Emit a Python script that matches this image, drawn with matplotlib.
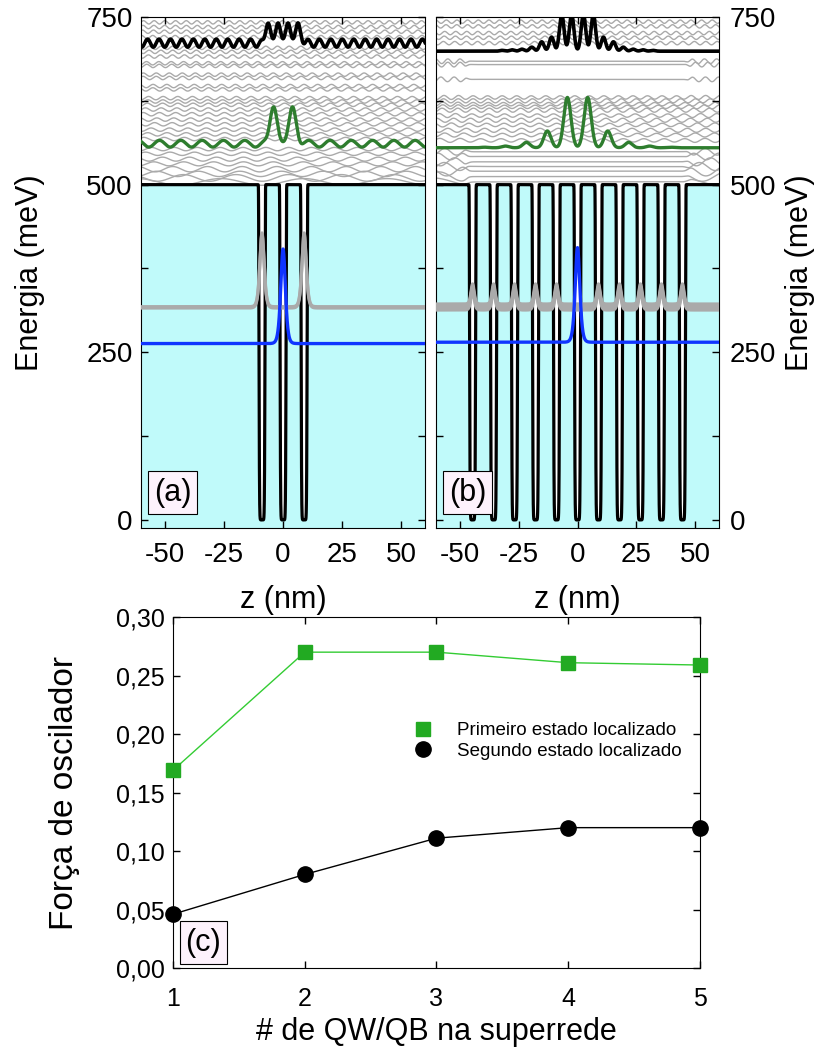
import numpy as np
import matplotlib.pyplot as plt
from matplotlib.lines import Line2D

plt.rcParams['font.family'] = ['Liberation Sans', 'DejaVu Sans']
plt.rcParams['axes.unicode_minus'] = False

# ---------------- top panels: potential + states ----------------
V0 = 500.0
well_width = 2.6
wells_a = [-8.9, 0.0, 8.9]
wells_b = [-44.5, -35.6, -26.7, -17.8, -8.9, 0.0, 8.9, 17.8, 26.7, 35.6, 44.5]

# first localized state (blue), base energy and peak height
blue_a = (263.0, 141.0)
blue_b = (265.0, 141.0)

# lower gray states, peaked at the side wells
gray_low_a_E = [316.0, 318.0]
gray_low_a_amp = 110.0
gray_low_b_E = [313.0, 316.0, 319.0, 322.0]
gray_low_b_amp = 30.0

# localized states above the barrier
green_a_E = 561.0
green_a_pk = [-4.0, 4.0]
green_a_amp = [55.0, 55.0]
black_a_E = 711.0
black_a_pk = [-6.3, -2.1, 2.1, 6.3]
black_a_amp = [30.0, 30.0, 30.0, 30.0]

green_b_E = 555.0
green_b_pk = [-39.4, -30.6, -21.7, -12.8, -4.3, 4.3, 12.8, 21.7, 30.6, 39.4]
green_b_amp = [0.8, 2.5, 8.0, 25.0, 75.0, 75.0, 25.0, 8.0, 2.5, 0.8]
black_b_E = 699.0
black_b_pk = [-32.0, -27.8, -23.6, -19.4, -15.2, -11.0, -6.7, -2.5,
              2.5, 6.7, 11.0, 15.2, 19.4, 23.6, 27.8, 32.0]
black_b_amp = [1.2, 2.0, 3.0, 6.0, 14.0, 21.0, 55.0, 55.0,
               55.0, 55.0, 21.0, 14.0, 6.0, 3.0, 2.0, 1.2]

# continuum (gray) states above the barrier
cont_a_E = [504, 510, 516, 523, 531, 538, 546, 553, 568, 575, 582, 590,
            597, 605, 612, 619, 624, 629, 642, 647, 659, 664, 677, 681,
            691, 698, 704, 720, 728, 735, 742]
cont_a_amp = [5, 5, 4, 4, 3, 3, 2.5, 2.5, 2.5, 2.5, 2.5, 2.5, 2.5, 2.5,
              2.5, 2.5, 2.5, 2.5, 2.5, 2.5, 2.5, 2.5, 2.5, 2.5, 2.5, 2.5,
              2.5, 2.5, 2.5, 2.5, 2.5]
cont_b_E = [504, 512, 520, 527, 534, 542, 549, 566, 574, 581, 589, 596,
            603, 611, 616, 620, 625, 630, 657, 679, 684, 711, 719, 726,
            736, 743]
cont_b_in = [0, 0, 0, 0, 0, 0, 0, 2.5, 2.5, 3, 2.5, 3, 2.5, 3, 2.5, 2.5,
             3, 2.5, 0, 0, 0, 2.5, 2.5, 2.5, 2.5, 2.5]
cont_b_out = [6, 7, 7, 6, 6, 5, 5, 3, 3, 3, 3, 3, 3, 3, 3, 3, 3, 3,
              3.5, 3.5, 3.5, 2.5, 2.5, 2.5, 2.5, 2.5]

# ---------------- bottom panel ----------------
n_layers = [1, 2, 3, 4, 5]
f_first = [0.169, 0.270, 0.270, 0.261, 0.259]
f_second = [0.046, 0.080, 0.111, 0.120, 0.120]

C_CYAN = '#c0fafa'
C_GRAY = '#aaaaaa'
C_GREEN = '#2e7d2e'
C_BLUE = '#1034ff'

z = np.linspace(-60, 60, 12001)


def gauss(z, centers, amps, w):
    out = np.zeros_like(z)
    for c, a in zip(centers, amps):
        out += a * np.exp(-0.5 * ((z - c) / w) ** 2)
    return out


def sech2(z, centers, amp, w):
    out = np.zeros_like(z)
    for c in centers:
        out += amp / np.cosh((z - c) / w) ** 2
    return out


def wiggle(z, E, amp, phase=0.0):
    # period follows free-particle dispersion above the barrier
    period = 9.0 * np.sqrt(61.0 / max(E - V0, 3.0))
    return amp * np.sin(2 * np.pi * z / period + phase)


def outside(z, z0, s=0.7):
    return 1.0 / (1.0 + np.exp(-(np.abs(z) - z0) / s))


def potential(wells):
    # square wells with slightly rounded bottoms
    dip = np.zeros_like(z)
    for c in wells:
        dip += np.exp(-(np.abs(z - c) / (well_width / 2)) ** 10)
    return V0 * (1 - np.clip(dip, 0, 1))


fig = plt.figure(figsize=(8.19, 10.48), dpi=100)
ax_a = fig.add_axes([0.1722, 0.4962, 0.3468, 0.4876])
ax_b = fig.add_axes([0.5324, 0.4962, 0.3455, 0.4876])
ax_c = fig.add_axes([0.2112, 0.0763, 0.6435, 0.3349])


def draw_panel(ax, wells, blue, low_E, low_amp, low_centers, low_w,
               green_E, green_pk, green_amp, green_w,
               black_E, black_pk, black_amp, black_w, tails,
               cont_E, cont_in, cont_out, edge):
    V = potential(wells)
    ax.fill_between(z, -20, V, color=C_CYAN, lw=0, zorder=0)

    # continuum states
    for i, E in enumerate(cont_E):
        env = cont_in[i] + (cont_out[i] - cont_in[i]) * outside(z, edge)
        ax.plot(z, E + wiggle(z, E, 1.0, phase=0.9 * i) * env,
                color=C_GRAY, lw=1.0, zorder=1)

    ax.plot(z, V, color='black', lw=2.3, solid_joinstyle='round',
            solid_capstyle='round', zorder=2)

    for E in low_E:
        ax.plot(z, E + sech2(z, low_centers, low_amp, low_w), color=C_GRAY,
                lw=2.3, zorder=3)
    ax.plot(z, blue[0] + sech2(z, [0.0], blue[1], 1.3), color=C_BLUE,
            lw=2.4, zorder=4)

    g = green_E + gauss(z, green_pk, green_amp, green_w)
    k = black_E + gauss(z, black_pk, black_amp, black_w)
    if tails:
        g += wiggle(z, green_E, 5.0, phase=0.3) * outside(z, 7.0)
        k += wiggle(z, black_E, 6.0, phase=0.5) * outside(z, 8.5)
    ax.plot(z, g, color=C_GREEN, lw=2.4, zorder=4)
    ax.plot(z, k, color='black', lw=2.6, zorder=4)

    ax.set_xlim(-60, 60)
    ax.set_ylim(-12, 748)
    ax.set_xticks([-50, -25, 0, 25, 50])
    ax.set_yticks([0, 125, 250, 375, 500, 625, 750])
    ax.set_yticklabels(['0', '', '250', '', '500', '', '750'])
    ax.tick_params(direction='in', top=True, right=True, length=5,
                   labelsize=20, width=1)
    ax.tick_params(axis='x', pad=10)
    ax.set_xlabel('z (nm)', fontsize=22, labelpad=12)


draw_panel(ax_a, wells_a, blue_a, gray_low_a_E, gray_low_a_amp, [-8.9, 8.9], 1.2,
           green_a_E, green_a_pk, green_a_amp, 1.5,
           black_a_E, black_a_pk, black_a_amp, 1.0, True,
           cont_a_E, cont_a_amp, cont_a_amp, 0.0)
draw_panel(ax_b, wells_b, blue_b, gray_low_b_E, gray_low_b_amp,
           [c for c in wells_b if c != 0.0], 0.9,
           green_b_E, green_b_pk, green_b_amp, 1.5,
           black_b_E, black_b_pk, black_b_amp, 0.95, False,
           cont_b_E, cont_b_in, cont_b_out, 47.0)

ax_a.tick_params(axis='y', pad=6)
ax_a.set_ylabel('Energia (meV)', fontsize=22, labelpad=30)
ax_b.tick_params(axis='y', labelleft=False, labelright=True, pad=8)
ax_b.yaxis.set_label_position('right')
ax_b.set_ylabel('Energia (meV)', fontsize=22, labelpad=6)

box = dict(boxstyle='square,pad=0.2', fc='#fdf2fc', ec='black', lw=0.8)
ax_a.text(0.045, 0.04, '(a)', transform=ax_a.transAxes, fontsize=22,
          ha='left', va='bottom', bbox=box, zorder=6)
ax_b.text(0.045, 0.04, '(b)', transform=ax_b.transAxes, fontsize=22,
          ha='left', va='bottom', bbox=box, zorder=6)

# ---------------- panel (c) ----------------
ax_c.plot(n_layers, f_first, color='#33cc33', lw=1.0, marker='s', ms=10,
          mfc='#22aa22', mec='#22aa22', clip_on=False, zorder=3)
ax_c.plot(n_layers, f_second, color='black', lw=1.0, marker='o', ms=11,
          mfc='black', mec='black', clip_on=False, zorder=3)
ax_c.set_xlim(1, 5)
ax_c.set_ylim(0, 0.30)
ax_c.set_xticks(n_layers)
yt = [0.0, 0.05, 0.10, 0.15, 0.20, 0.25, 0.30]
ax_c.set_yticks(yt)
ax_c.set_yticklabels([f'{v:.2f}'.replace('.', ',') for v in yt])
ax_c.tick_params(direction='in', top=True, right=True, length=5,
                 labelsize=18, width=1)
ax_c.tick_params(axis='x', pad=14)
ax_c.tick_params(axis='y', pad=6)
ax_c.set_xlabel('# de QW/QB na superrede', fontsize=22, labelpad=4)
ax_c.set_ylabel('Força de oscilador', fontsize=24, labelpad=26)

handles = [Line2D([], [], ls='none', marker='s', ms=10, color='#22aa22'),
           Line2D([], [], ls='none', marker='o', ms=11, color='black')]
ax_c.legend(handles, ['Primeiro estado localizado', 'Segundo estado localizado'],
            loc='center left', bbox_to_anchor=(0.457, 0.647), frameon=False,
            fontsize=13.5, handlelength=1.0, handletextpad=1.3,
            labelspacing=0.2, borderpad=0, borderaxespad=0)
ax_c.text(0.024, 0.03, '(c)', transform=ax_c.transAxes, fontsize=22,
          ha='left', va='bottom', bbox=box, zorder=6)

fig.savefig('out.png', dpi=100)
